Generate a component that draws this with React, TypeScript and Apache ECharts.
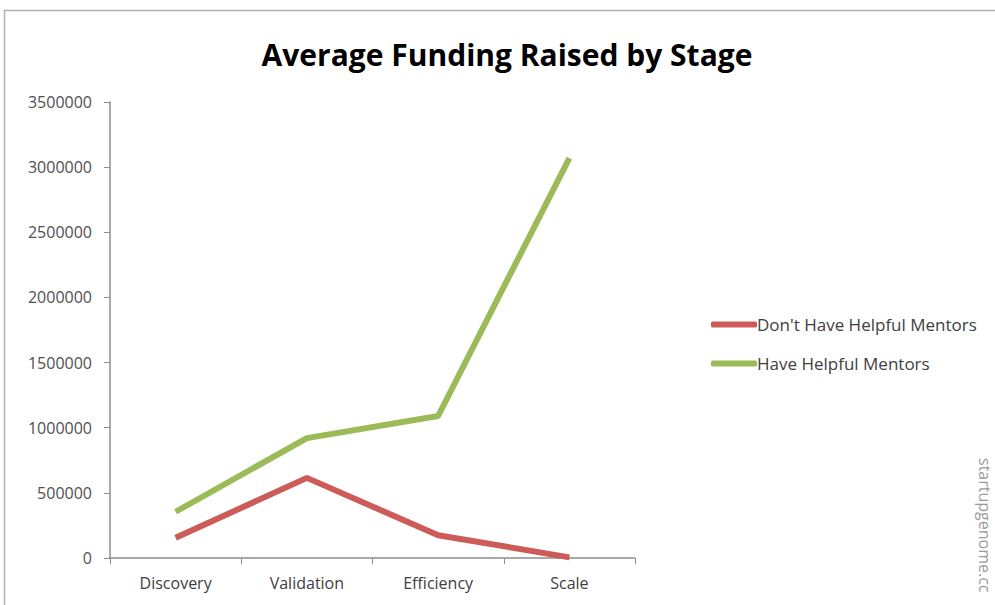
import React, { useEffect, useRef } from "react";
import * as echarts from "echarts";

const categories = ["Discovery", "Validation", "Efficiency", "Scale"];
const dontHave = [155000, 615000, 175000, 5000];
const haveMentors = [355000, 920000, 1090000, 3070000];
const seriesNames = ["Don't Have Helpful Mentors", "Have Helpful Mentors"];
const titleText = "Average Funding Raised by Stage";
const watermark = "startupgenome.cc";

export default function App() {
  const ref = useRef<HTMLDivElement>(null);
  useEffect(() => {
    if (!ref.current) return;
    const chart = echarts.init(ref.current, undefined, { renderer: "svg" });
    chart.setOption({
      animation: false,
      backgroundColor: "#ffffff",
      title: {
        text: titleText,
        left: 502,
        textAlign: "center",
        top: 34,
        textStyle: {
          fontFamily: "Open Sans",
          fontWeight: "bold",
          fontSize: 30,
          color: "#000000",
        },
      },
      legend: {
        orient: "vertical",
        left: 706,
        top: 311,
        itemGap: 22,
        itemWidth: 46,
        itemHeight: 6,
        icon: "roundRect",
        textStyle: { fontFamily: "Open Sans", fontSize: 17, color: "#404040", padding: [0, 0, 0, -5] },
        data: seriesNames,
      },
      grid: { left: 110, top: 102, width: 525, height: 456, containLabel: false },
      xAxis: {
        type: "category",
        data: categories,
        boundaryGap: true,
        axisLine: { lineStyle: { color: "#8c8c8c", width: 1.5 } },
        axisTick: { show: true, length: 6, lineStyle: { color: "#8c8c8c" } },
        axisLabel: { fontFamily: "Open Sans", fontSize: 16, color: "#404040", margin: 17 },
      },
      yAxis: {
        type: "value",
        min: 0,
        max: 3500000,
        interval: 500000,
        splitLine: { show: false },
        axisLine: { show: true, lineStyle: { color: "#8c8c8c", width: 1.5 } },
        axisTick: { show: true, length: 6, lineStyle: { color: "#8c8c8c" } },
        axisLabel: {
          fontFamily: "Open Sans",
          fontSize: 16,
          color: "#505050",
          margin: 18,
          formatter: (v: number) => String(v),
        },
      },
      series: [
        {
          name: seriesNames[0],
          type: "line",
          data: dontHave,
          showSymbol: false,
          symbol: "none",
          lineStyle: { color: "#cd5c58", width: 6 },
          itemStyle: { color: "#cd5c58" },
        },
        {
          name: seriesNames[1],
          type: "line",
          data: haveMentors,
          showSymbol: false,
          symbol: "none",
          lineStyle: { color: "#9bbb59", width: 6 },
          itemStyle: { color: "#9bbb59" },
        },
      ],
      graphic: [
        {
          type: "rect",
          shape: { x: 4.5, y: 10.5, width: 1100, height: 700 },
          style: { fill: "none", stroke: "#b0b0b0", lineWidth: 1.5 },
          silent: true,
        },
        {
          type: "text",
          x: 977,
          y: 458,
          rotation: -Math.PI / 2,
          style: {
            text: watermark,
            fontFamily: "Open Sans",
            fontSize: 16,
            fill: "#9a9a9a",
            textAlign: "left",
            textVerticalAlign: "bottom",
          },
        },
      ],
    });
    return () => chart.dispose();
  }, []);
  return (
    <div
      ref={ref}
      style={{ position: "fixed", left: 0, top: 0, width: 995, height: 605 }}
    />
  );
}
